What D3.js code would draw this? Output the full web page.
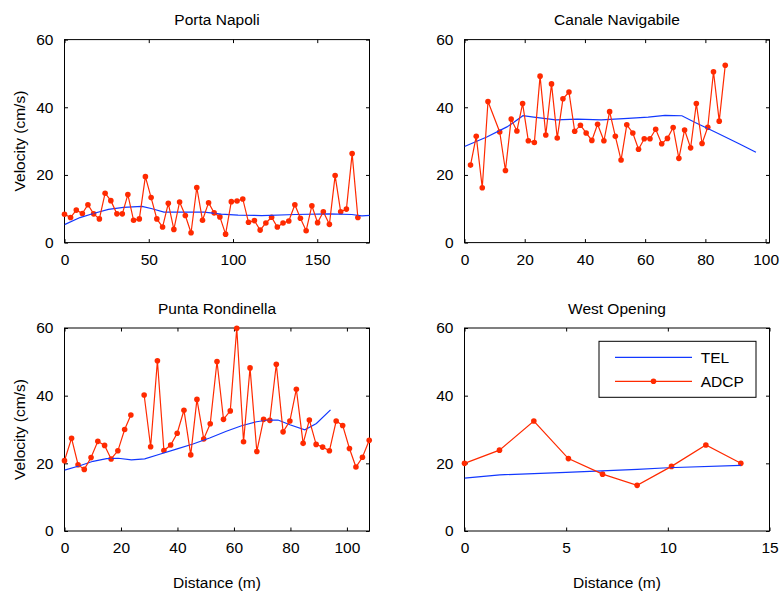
<!DOCTYPE html>
<html><head><meta charset="utf-8">
<script src="https://cdn.jsdelivr.net/npm/d3@7"></script>
<style>body{margin:0;background:#fff}svg{display:block}text{font-family:"Liberation Sans",Arial,sans-serif;fill:#000}</style>
</head><body>
<script>
// ---------- data ----------
const titles = ["Porta Napoli", "Canale Navigabile", "Punta Rondinella", "West Opening"];
const xMax = [181, 101.3, 108, 15];
const xTicks = [[0,50,100,150],[0,20,40,60,80,100],[0,20,40,60,80,100],[0,5,10,15]];
const yTicks = [0,20,40,60];

const pnAdcpX = [0,3.6,7,10.6,13.9,17.3,20.7,24.1,27.5,31.1,34.3,37.6,41,44.4,48,51.4,54.8,58.2,61.6,64.9,68.3,71.7,75.1,78.5,81.9,85.5,88.8,92.2,95.6,99,102.4,105.8,109.2,112.7,116.1,119.5,122.9,126.3,129.7,133.1,136.7,140,143.4,146.8,150.2,153.6,157.2,160.6,163.9,167.3,170.7,174.1];
const pnAdcpY = [8.4,7.4,9.6,8.6,11.2,8.5,7.0,14.6,12.4,8.5,8.5,14.2,6.6,7.0,19.5,13.3,7.0,4.6,11.6,3.9,12.0,8.0,2.9,16.3,6.6,11.8,8.8,7.6,2.5,12.1,12.3,12.9,6.0,6.5,3.7,5.8,7.5,4.6,5.8,6.4,11.2,7.2,3.5,10.9,5.9,9.1,5.4,19.8,9.1,9.9,26.3,7.4];
const pnTelX = [0,9.2,17.1,26.1,35,46,52,59,69,83,93,103,117,137,157,170.5,176.5,183];
const pnTelY = [5.3,7.4,8.6,9.8,10.4,10.7,10.0,9.0,9.0,9.0,8.4,8.1,8.0,8.3,8.5,8.3,7.9,8.1];

const cnAdcpX = [2.0,3.9,5.9,7.8,11.7,13.6,15.5,17.4,19.3,21.2,23.2,25.1,27.0,28.9,30.8,32.7,34.7,36.6,38.5,40.4,42.3,44.2,46.3,48.2,50.1,52.0,53.9,55.9,57.8,59.7,61.6,63.5,65.5,67.4,69.3,71.2,73.1,75.1,77.0,78.9,80.8,82.7,84.6,86.6];
const cnAdcpY = [22.9,31.4,16.2,41.7,32.7,21.3,36.5,33.0,41.1,30.1,29.6,49.2,31.8,46.9,30.9,42.5,44.5,32.9,34.7,32.4,30.2,35.0,30.1,38.7,31.4,24.4,34.8,32.4,27.6,30.7,30.7,33.5,29.2,30.8,34.0,24.9,33.3,28.0,41.1,29.3,34.1,50.5,35.9,52.4];
const cnTelX = [0,7.4,14.1,16.3,19.4,23,30.3,37.5,45.4,54.3,61,66.6,72.2,76.6,83.4,91.2,96.8];
const cnTelY = [28.4,31.2,34.2,35.5,37.5,37.1,36.3,36.5,36.3,36.7,37.1,37.6,37.5,35.5,32.6,29.2,26.7];

const prAdcpX = [0,2.5,4.8,7.0,9.4,11.8,14.2,16.5,18.9,21.3,23.5,25.9,28.2,30.5,32.9,35.2,37.6,39.9,42.3,44.7,46.9,49.3,51.6,54.0,56.3,58.7,61.0,63.4,65.7,68.1,70.5,72.7,75.0,77.4,79.8,82.1,84.5,86.7,89.1,91.4,93.8,96.2,98.5,100.9,103.2,105.5,107.9];
const prAdcpY = [20.8,27.4,19.6,18.2,21.7,26.5,25.3,21.3,23.7,30.0,34.3,null,40.2,24.9,50.3,23.8,25.4,28.9,35.7,22.5,38.9,27.2,31.7,50.1,33.0,35.5,59.9,26.4,48.2,23.5,33.0,32.7,49.3,29.3,32.5,41.9,25.9,32.8,25.6,24.8,23.7,32.5,31.2,24.4,18.9,21.8,26.8];
const prTelX = [0,5.4,10.1,14.9,19,23.7,28.4,33.7,39.6,45.5,51.4,57.3,62.7,68,72.1,75.6,79.8,85.1,89.2,94.2];
const prTelY = [18.0,19.3,20.6,21.4,21.5,21.0,21.3,22.7,24.2,25.7,27.5,29.5,31.1,32.3,32.8,32.8,31.4,29.9,31.8,35.8];

const woAdcpX = [0,1.72,3.41,5.11,6.79,8.49,10.18,11.87,13.59];
const woAdcpY = [20.0,23.9,32.5,21.4,16.8,13.5,19.1,25.4,20.0];
const woTelX = [0,1.74,5,8.5,10,13.59];
const woTelY = [15.6,16.6,17.3,18.2,18.7,19.4];

const seriesNames = ["TEL", "ADCP"];
const adcpX = [pnAdcpX, cnAdcpX, prAdcpX, woAdcpX];
const adcpY = [pnAdcpY, cnAdcpY, prAdcpY, woAdcpY];
const telX = [pnTelX, cnTelX, prTelX, woTelX];
const telY = [pnTelY, cnTelY, prTelY, woTelY];

// ---------- layout ----------
const W = 781, H = 592;
const lefts = [64.5, 464.5, 64.5, 464.5];
const tops = [39.6, 39.6, 328, 328];
const pw = 305, ph = 203;
const RED = "#ff2a00", BLUE = "#1238ff";
const FS = "15.5px";

const svg = d3.select("body").append("svg").attr("width", W).attr("height", H);

for (let i = 0; i < 4; i++) {
  const g = svg.append("g").attr("transform", `translate(${lefts[i]},${tops[i]})`);
  const x = d3.scaleLinear().domain([0, xMax[i]]).range([0, pw]);
  const y = d3.scaleLinear().domain([0, 60]).range([ph, 0]);

  svg.append("clipPath").attr("id", "clip" + i).append("rect").attr("width", pw).attr("height", ph)
     .attr("transform", `translate(${lefts[i]},${tops[i]})`);

  // axes (box with inward ticks)
  const ax = (axis, tr) => g.append("g").attr("transform", tr).call(axis)
      .call(s => s.select(".domain").remove())
      .call(s => s.selectAll("line").attr("stroke", "#000"))
      .call(s => s.selectAll("text").style("font-size", FS).attr("fill", "#000"));
  ax(d3.axisBottom(x).tickValues(xTicks[i]).tickSizeInner(-3.5).tickSizeOuter(0).tickPadding(11), `translate(0,${ph})`);
  ax(d3.axisTop(x).tickValues(xTicks[i]).tickSizeInner(-3.5).tickSizeOuter(0).tickFormat(""), `translate(0,0)`);
  ax(d3.axisLeft(y).tickValues(yTicks).tickSizeInner(-3.5).tickSizeOuter(0).tickPadding(11), `translate(0,0)`);
  ax(d3.axisRight(y).tickValues(yTicks).tickSizeInner(-3.5).tickSizeOuter(0).tickFormat(""), `translate(${pw},0)`);
  g.append("rect").attr("width", pw).attr("height", ph).attr("fill", "none").attr("stroke", "#000").attr("stroke-width", 1);

  const plot = svg.append("g").attr("clip-path", `url(#clip${i})`)
      .append("g").attr("transform", `translate(${lefts[i]},${tops[i]})`);

  const tel = telX[i].map((v, k) => [v, telY[i][k]]);
  const adcp = adcpX[i].map((v, k) => [v, adcpY[i][k]]);
  const line = d3.line().defined(d => d[1] != null).x(d => x(d[0])).y(d => y(d[1]));

  plot.append("path").datum(tel).attr("d", line).attr("fill", "none").attr("stroke", BLUE).attr("stroke-width", 1.2);
  plot.append("path").datum(adcp).attr("d", line).attr("fill", "none").attr("stroke", RED).attr("stroke-width", 1.2);
  g.selectAll("circle").data(adcp.filter(d => d[1] != null)).join("circle")
      .attr("cx", d => x(d[0])).attr("cy", d => y(d[1])).attr("r", 2.8).attr("fill", RED);

  // title
  g.append("text").attr("x", pw / 2).attr("y", -14.5).attr("text-anchor", "middle").style("font-size", FS).text(titles[i]);
  if (i % 2 === 0) {
    g.append("text").attr("transform", `translate(${24.5 - lefts[i]},${ph / 2}) rotate(-90)`)
      .attr("text-anchor", "middle").style("font-size", FS).text("Velocity (cm/s)");
  }
  if (i >= 2) {
    g.append("text").attr("x", pw / 2).attr("y", ph + 56.5).attr("text-anchor", "middle").style("font-size", FS).text("Distance (m)");
  }

  if (i === 3) {
    const lg = svg.append("g").attr("transform", "translate(599,341.3)");
    lg.append("rect").attr("width", 157).attr("height", 56).attr("fill", "#fff").attr("stroke", "#000").attr("stroke-width", 1);
    const cols = [BLUE, RED];
    seriesNames.forEach((nm, k) => {
      const yy = 16 + k * 24;
      lg.append("line").attr("x1", 16).attr("x2", 93).attr("y1", yy).attr("y2", yy).attr("stroke", cols[k]).attr("stroke-width", 1.2);
      if (k === 1) lg.append("circle").attr("cx", 54.5).attr("cy", yy).attr("r", 2.8).attr("fill", RED);
      lg.append("text").attr("x", 101.7).attr("y", yy + 5.5).style("font-size", FS).text(nm);
    });
  }
}
</script>
</body></html>
